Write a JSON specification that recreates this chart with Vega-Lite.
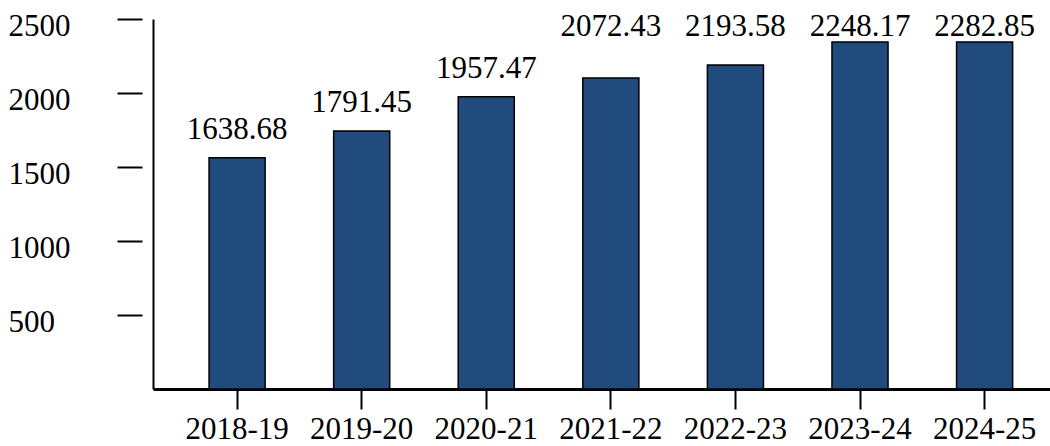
{
  "$schema": "https://vega.github.io/schema/vega-lite/v6.json",
  "width": 897,
  "height": 370,
  "autosize": {"type": "none"},
  "padding": {"left": 153, "top": 19, "right": 0, "bottom": 57},
  "background": "white",
  "config": {"view": {"stroke": null}, "font": "Liberation Serif"},
  "data": {
    "values": [
      {"period": "2018-19", "value": 1562, "reported": 1638.68},
      {"period": "2019-20", "value": 1744, "reported": 1791.45},
      {"period": "2020-21", "value": 1974, "reported": 1957.47},
      {"period": "2021-22", "value": 2102, "reported": 2072.43},
      {"period": "2022-23", "value": 2190, "reported": 2193.58},
      {"period": "2023-24", "value": 2345, "reported": 2248.17},
      {"period": "2024-25", "value": 2345, "reported": 2282.85}
    ]
  },
  "encoding": {
    "x": {
      "field": "period",
      "type": "nominal",
      "sort": null,
      "scale": {"paddingInner": 0.55, "paddingOuter": 0.375, "align": 0.6},
      "axis": {
        "orient": "bottom",
        "title": null,
        "domain": true,
        "domainColor": "black",
        "domainWidth": 3,
        "ticks": true,
        "tickSize": 20,
        "tickWidth": 2,
        "tickColor": "black",
        "labelFont": "Liberation Serif",
        "labelFontSize": 31,
        "labelColor": "black",
        "labelAngle": 0,
        "labelBaseline": "alphabetic",
        "labelPadding": 29,
        "labelOverlap": false,
        "grid": false
      }
    }
  },
  "layer": [
    {
      "mark": {"type": "bar", "fill": "#214a7d", "stroke": "black", "strokeWidth": 1.5},
      "encoding": {
        "y": {
          "field": "value",
          "type": "quantitative",
          "scale": {"domain": [0, 2500], "nice": false, "zero": true},
          "axis": {
            "orient": "left",
            "title": null,
            "offset": 11,
            "domain": false,
            "grid": false,
            "ticks": true,
            "tickSize": 25,
            "tickWidth": 2,
            "tickColor": "black",
            "values": [500, 1000, 1500, 2000, 2500],
            "format": "d",
            "labelFont": "Liberation Serif",
            "labelFontSize": 31,
            "labelColor": "black",
            "labelAlign": "left",
            "labelBaseline": "middle",
            "labelOffset": 7,
            "labelPadding": 109,
            "labelOverlap": false
          }
        }
      }
    },
    {
      "transform": [{"filter": {"field": "period", "oneOf": ["2018-19", "2019-20", "2020-21"]}}],
      "mark": {"type": "text", "font": "Liberation Serif", "fontSize": 31, "color": "black", "baseline": "alphabetic", "align": "center", "dy": -19},
      "encoding": {
        "y": {
          "field": "value",
          "type": "quantitative",
          "axis": {
            "orient": "left",
            "title": null,
            "domain": true,
            "domainColor": "black",
            "domainWidth": 2,
            "ticks": false,
            "labels": false,
            "grid": false
          }
        },
        "text": {"field": "reported", "type": "quantitative", "format": ".2f"}
      }
    },
    {
      "transform": [
        {"filter": {"field": "period", "oneOf": ["2021-22", "2022-23", "2023-24", "2024-25"]}},
        {"joinaggregate": [{"op": "max", "field": "value", "as": "rowTop"}]}
      ],
      "mark": {"type": "text", "font": "Liberation Serif", "fontSize": 31, "color": "black", "baseline": "alphabetic", "align": "center", "dy": -6},
      "encoding": {
        "y": {"field": "rowTop", "type": "quantitative", "axis": null},
        "text": {"field": "reported", "type": "quantitative", "format": ".2f"}
      }
    }
  ],
  "resolve": {"axis": {"y": "independent"}}
}
